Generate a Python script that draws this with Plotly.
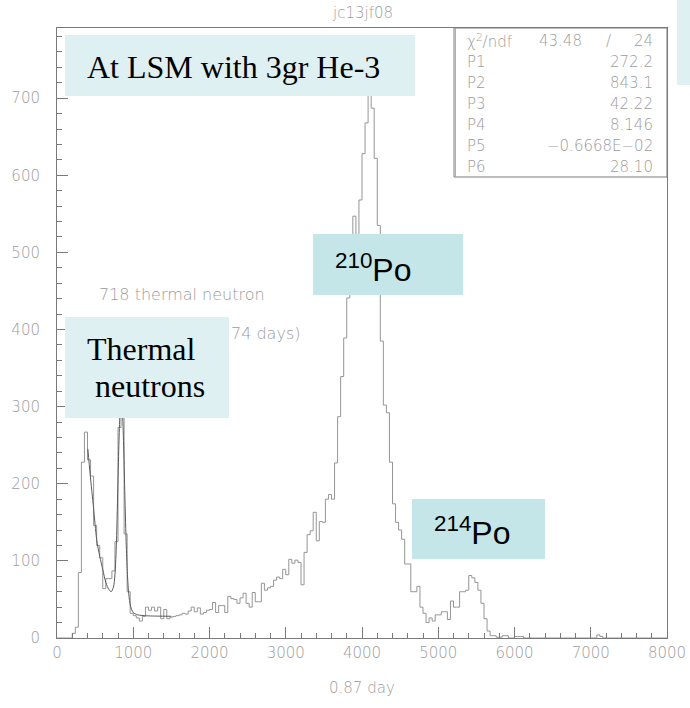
import numpy as np
import plotly.graph_objects as go

# ---------------- data ----------------
BIN_WIDTH = 40  # channel width of the histogram
counts = [
    0, 0, 0, 0, 0, 6, 14, 85, 228, 267,            # 0-400
    231, 210, 146, 120, 104, 64, 77, 77, 87, 125,  # 400-800
    273, 330, 135, 60, 32, 29, 26, 22, 28, 40,     # 800-1200
    36, 40, 35, 40, 25, 37, 25, 27, 28, 29,        # 1200-1600
    30, 32, 31, 35, 40, 34, 39, 31, 33, 36,        # 1600-2000
    37, 46, 33, 42, 42, 33, 54, 51, 50, 45,        # 2000-2400
    52, 58, 45, 40, 59, 47, 47, 71, 62, 65,        # 2400-2800
    67, 75, 79, 77, 89, 82, 102, 97, 101, 98,      # 2800-3200
    69, 111, 134, 139, 163, 126, 151, 150, 180, 186,   # 3200-3600
    180, 227, 287, 339, 389, 441, 495, 547, 510, 568,  # 3600-4000
    628, 668, 753, 687, 622, 535, 385, 302, 292, 228,  # 4000-4400
    174, 150, 140, 128, 96, 96, 60, 60, 67, 40,        # 4400-4800
    32, 20, 26, 22, 30, 30, 34, 34, 24, 48,            # 4800-5200
    40, 40, 60, 60, 62, 81, 78, 72, 62, 45,            # 5200-5600
    25, 9, 3, 3, 1, 1, 3, 3, 0, 0,                     # 5600-6000
    2, 2, 2, 0, 0, 0, 0, 0, 0, 0,                      # 6000-6400
    0, 0, 0, 0, 0, 0, 0, 0, 0, 0,                      # 6400-6800
    0, 0, 0, 0, 0, 0, 0, 4, 2, 0,                      # 6800-7200
    0, 0, 0, 0, 0, 0, 0, 0, 0, 0,                      # 7200-7600
    0, 0, 0, 0, 0, 0, 0, 0, 0, 0,                      # 7600-8000
]

# fitted curve over the thermal-neutron region
fit_x = [405, 435, 480, 520, 560, 600, 640, 680, 710, 740, 760, 780, 800,
         815, 830, 843, 860, 875, 890, 905, 920, 940, 965, 1000, 1060,
         1150, 1250, 1380, 1500]
fit_y = [245, 212, 168, 128, 106, 89, 72, 63, 60, 66, 82, 125, 206,
         262, 300, 313, 290, 245, 185, 130, 90, 58, 41, 33, 30,
         29, 28.5, 28.3, 28.2]

stat_labels = ["P1", "P2", "P3", "P4", "P5", "P6"]
stat_values = ["272.2", "843.1", "42.22", "8.146", "\u22120.6668E\u221202", "28.10"]
chi2_value = "43.48"
ndf_value = "24"

X_RANGE = [0, 8000]
Y_RANGE = [0, 791]

# ---------------- figure ----------------
W, H = 690, 708
L, R, T, B = 57, 23, 28, 70
PW, PH = W - L - R, H - T - B


def xp(px):
    """pixel x -> paper"""
    return (px - L) / PW


def yp(py):
    """pixel y -> paper"""
    return (T + PH - py) / PH


edges = np.arange(len(counts) + 1) * BIN_WIDTH
step_y = list(counts) + [counts[-1]]

fig = go.Figure()
fig.add_trace(go.Scatter(x=edges, y=step_y, mode="lines",
                         line=dict(shape="hv", color="#959595", width=1),
                         hoverinfo="skip"))
fig.add_trace(go.Scatter(x=fit_x, y=fit_y, mode="lines",
                         line=dict(shape="spline", smoothing=0.8,
                                   color="#5a5a5a", width=1),
                         hoverinfo="skip"))

GREY = "#9c9c9c"
AXC = "#7a7a7a"
tickfont = dict(family="DejaVu Sans", size=15, color=GREY, weight=200)

fig.update_layout(
    width=W, height=H,
    margin=dict(l=L, r=R, t=T, b=B, autoexpand=False),
    paper_bgcolor="white", plot_bgcolor="white",
    showlegend=False,
    xaxis=dict(range=X_RANGE, dtick=1000, tick0=0, ticks="inside", ticklen=11,
               tickcolor=AXC, tickwidth=1, showline=True, linecolor=AXC,
               linewidth=1, mirror=True, showgrid=False, zeroline=False,
               tickfont=tickfont, ticklabelstandoff=1, automargin=False,
               minor=dict(dtick=200, ticks="inside", ticklen=5,
                          tickcolor=AXC, showgrid=False)),
    yaxis=dict(range=Y_RANGE, dtick=100, tick0=0, ticks="inside", ticklen=11,
               tickcolor=AXC, tickwidth=1, showline=True, linecolor=AXC,
               linewidth=1, mirror=True, showgrid=False, zeroline=False,
               tickfont=tickfont, ticklabelstandoff=13, automargin=False,
               minor=dict(dtick=20, ticks="inside", ticklen=5,
                          tickcolor=AXC, showgrid=False)),
)

LIGHT = "#dff0f2"
CYAN = "#c4e6e8"
shapes = []


def box(x0, y0, x1, y1, color, line=None):
    d = dict(type="rect", xref="paper", yref="paper",
             x0=xp(x0), x1=xp(x1), y0=yp(y1), y1=yp(y0),
             fillcolor=color, layer="above")
    d["line"] = line if line else dict(width=0)
    shapes.append(d)


box(65, 35, 415, 96, LIGHT)
box(65, 317, 229, 418, LIGHT)
box(313, 234, 463, 295, CYAN)
box(412, 499, 545, 559, CYAN)
box(677, -5, 695, 85, LIGHT)
# statistics box
box(454, 28, 667, 177, "white", line=dict(color=AXC, width=1))
shapes.append(dict(type="line", xref="paper", yref="paper",
                   x0=xp(455.5), x1=xp(455.5), y0=yp(177), y1=yp(28),
                   line=dict(color="#b0b0b0", width=1), layer="above"))
fig.update_layout(shapes=shapes)

ann = []


def text(x, y, s, size, color="black", family="DejaVu Sans", xanchor="left",
         weight=None):
    f = dict(family=family, size=size, color=color)
    if weight:
        f["weight"] = weight
    ann.append(dict(x=xp(x), y=yp(y), xref="paper", yref="paper", text=s,
                    showarrow=False, xanchor=xanchor, yanchor="middle",
                    font=f))


SERIF = "Liberation Serif"
SANS = "Liberation Sans"
text(85, 67, "At LSM with 3gr He-3", 32, family=SERIF)
text(85, 349, "Thermal", 32, family=SERIF)
text(93, 386, "neutrons", 32, family=SERIF)
text(333, 268, "<sup>210</sup>Po", 32, family=SANS)
text(432, 531, "<sup>214</sup>Po", 32, family=SANS)

text(97, 294, "718 thermal neutron", 16, color=GREY, weight=200)
text(229, 333, "74 days)", 16, color=GREY, weight=200)
text(362, 13, "jc13jf08", 15, color=GREY, xanchor="center", weight=200)
text(362, 688, "0.87 day", 15, color=GREY, xanchor="center", weight=200)

row_y = [62, 83, 104, 125, 146, 167]
text(465, 41, "\u03c7<sup>2</sup>/ndf", 15, color=GREY, weight=200)
text(584, 41, chi2_value, 15, color=GREY, xanchor="right", weight=200)
text(608, 41, "/", 15, color=GREY, xanchor="center", weight=200)
text(655, 41, ndf_value, 15, color=GREY, xanchor="right", weight=200)
for yy, lab, val in zip(row_y, stat_labels, stat_values):
    text(465, yy, lab, 15, color=GREY, weight=200)
    text(655, yy, val, 15, color=GREY, xanchor="right", weight=200)

fig.update_layout(annotations=ann)

# put the figure at the page's top-left corner (no default body margin)
fig.write_html("out.html",
               config={"displayModeBar": False},
               post_script="document.body.style.margin='0px';"
                           "document.body.style.overflow='hidden';")
